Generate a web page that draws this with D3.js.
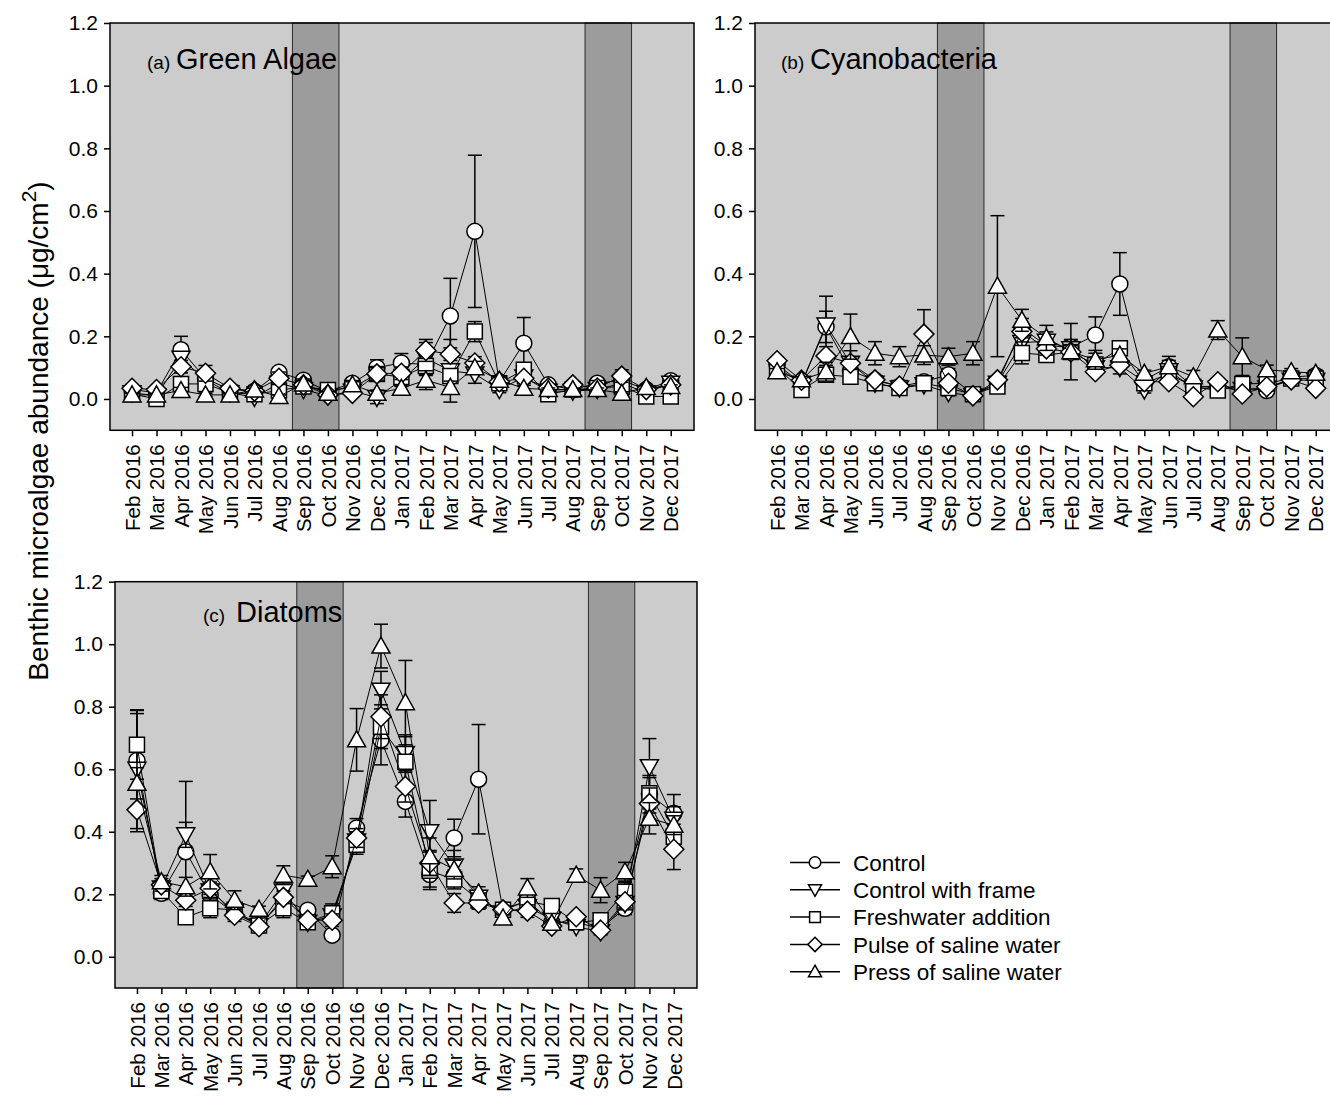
<!DOCTYPE html>
<html>
<head>
<meta charset="utf-8">
<script src="https://cdn.jsdelivr.net/npm/d3@7"></script>
<style>
  body { margin: 0; background: #fff; }
  text { font-family: "Liberation Sans", Arial, sans-serif; fill: #000; }
</style>
</head>
<body>
<script>
// months on the x axis
const months = ["Feb 2016","Mar 2016","Apr 2016","May 2016","Jun 2016","Jul 2016","Aug 2016","Sep 2016","Oct 2016",
  "Nov 2016","Dec 2016","Jan 2017","Feb 2017","Mar 2017","Apr 2017","May 2017","Jun 2017","Jul 2017","Aug 2017",
  "Sep 2017","Oct 2017","Nov 2017","Dec 2017"]
const treatments = ["Control","Control with frame","Freshwater addition","Pulse of saline water","Press of saline water"]
const yTicks = [0, 0.2, 0.4, 0.6, 0.8, 1.0, 1.2]
// shaded periods (month index)
const bandStart = [6.55, 18.5]
const bandEnd = [8.45, 20.4]

// (a) green algae
const greenControl = [0.03,0.02,0.157,0.065,0.03,0.025,0.085,0.06,0.025,0.05,0.1,0.115,0.11,0.265,0.535,0.055,0.178,0.045,0.03,0.05,0.06,0.03,0.058]
const greenFrame   = [0.02,0.01,0.13,0.06,0.02,0.005,0.05,0.03,0.01,0.025,0.005,0.06,0.13,0.09,0.08,0.03,0.07,0.025,0.025,0.03,0.05,0.02,0.05]
const greenFresh   = [0.016,0.0,0.048,0.048,0.02,0.015,0.027,0.04,0.029,0.035,0.08,0.07,0.105,0.073,0.215,0.05,0.093,0.015,0.03,0.035,0.04,0.008,0.008]
const greenPulse   = [0.034,0.03,0.103,0.082,0.034,0.025,0.066,0.045,0.013,0.018,0.08,0.082,0.155,0.143,0.115,0.055,0.066,0.035,0.045,0.035,0.073,0.03,0.045]
const greenPress   = [0.013,0.013,0.027,0.013,0.013,0.029,0.008,0.048,0.018,0.045,0.018,0.034,0.06,0.037,0.1,0.06,0.034,0.03,0.03,0.03,0.018,0.037,0.04]
const greenControlSE = [0.01,0.01,0.043,0.01,0.01,0.01,0.015,0.01,0.01,0.01,0.025,0.03,0.03,0.12,0.243,0.01,0.082,0.01,0.01,0.01,0.01,0.01,0.01]
const greenFrameSE   = [0.01,0.01,0.02,0.02,0.01,0.01,0.02,0.01,0.01,0.01,0.02,0.02,0.05,0.1,0.03,0.01,0.02,0.01,0.01,0.01,0.02,0.01,0.01]
const greenFreshSE   = [0.01,0.01,0.015,0.025,0.01,0.01,0.01,0.01,0.01,0.01,0.02,0.02,0.03,0.01,0.032,0.01,0.02,0.01,0.01,0.01,0.01,0.01,0.01]
const greenPulseSE   = [0.01,0.01,0.02,0.025,0.01,0.01,0.02,0.01,0.01,0.01,0.02,0.02,0.035,0.02,0.02,0.01,0.01,0.01,0.01,0.01,0.02,0.01,0.01]
const greenPressSE   = [0.005,0.005,0.01,0.005,0.005,0.005,0.005,0.01,0.005,0.01,0.01,0.01,0.03,0.02,0.02,0.01,0.01,0.005,0.005,0.005,0.005,0.005,0.005]

// (b) cyanobacteria
const cyanoControl = [0.11,0.05,0.23,0.09,0.06,0.04,0.055,0.077,0.015,0.05,0.227,0.17,0.165,0.204,0.367,0.06,0.103,0.04,0.04,0.035,0.027,0.07,0.075]
const cyanoFrame   = [0.1,0.05,0.236,0.114,0.05,0.035,0.045,0.02,0.01,0.05,0.18,0.184,0.16,0.1,0.1,0.029,0.09,0.035,0.035,0.03,0.035,0.06,0.06]
const cyanoFresh   = [0.1,0.029,0.077,0.071,0.05,0.035,0.05,0.035,0.015,0.04,0.147,0.14,0.15,0.11,0.162,0.05,0.08,0.039,0.027,0.048,0.05,0.065,0.065]
const cyanoPulse   = [0.122,0.06,0.137,0.114,0.061,0.041,0.207,0.05,0.01,0.061,0.215,0.16,0.15,0.087,0.108,0.055,0.055,0.007,0.055,0.016,0.039,0.061,0.034]
const cyanoPress   = [0.087,0.061,0.087,0.199,0.146,0.135,0.14,0.135,0.146,0.36,0.251,0.195,0.151,0.125,0.14,0.082,0.103,0.071,0.22,0.135,0.093,0.087,0.082]
const cyanoControlSE = [0.01,0.01,0.05,0.02,0.01,0.01,0.01,0.02,0.005,0.01,0.03,0.02,0.02,0.058,0.1,0.01,0.033,0.01,0.01,0.01,0.01,0.01,0.01]
const cyanoFrameSE   = [0.01,0.01,0.092,0.04,0.01,0.01,0.01,0.01,0.005,0.01,0.04,0.03,0.03,0.02,0.02,0.01,0.02,0.01,0.01,0.01,0.01,0.01,0.01]
const cyanoFreshSE   = [0.01,0.005,0.01,0.01,0.01,0.01,0.01,0.01,0.005,0.01,0.035,0.01,0.02,0.02,0.02,0.01,0.01,0.01,0.005,0.01,0.01,0.01,0.01]
const cyanoPulseSE   = [0.01,0.01,0.03,0.02,0.01,0.01,0.078,0.01,0.005,0.01,0.02,0.02,0.02,0.01,0.01,0.01,0.01,0.01,0.01,0.005,0.01,0.01,0.01]
const cyanoPressSE   = [0.01,0.01,0.03,0.072,0.037,0.032,0.03,0.027,0.037,0.225,0.035,0.04,0.09,0.03,0.02,0.01,0.02,0.02,0.03,0.06,0.015,0.01,0.01]

// (c) diatoms
const diatomControl = [0.628,0.203,0.336,0.197,0.14,0.1,0.18,0.149,0.069,0.412,0.694,0.497,0.263,0.38,0.568,0.15,0.18,0.11,0.11,0.09,0.155,0.52,0.459]
const diatomFrame   = [0.6,0.22,0.39,0.21,0.145,0.1,0.21,0.11,0.13,0.37,0.853,0.65,0.4,0.29,0.19,0.14,0.16,0.12,0.096,0.08,0.17,0.608,0.44]
const diatomFresh   = [0.678,0.21,0.126,0.155,0.15,0.1,0.155,0.11,0.139,0.358,0.736,0.624,0.275,0.247,0.18,0.15,0.178,0.162,0.11,0.117,0.208,0.523,0.384]
const diatomPulse   = [0.47,0.23,0.181,0.219,0.133,0.096,0.19,0.117,0.117,0.38,0.768,0.545,0.3,0.172,0.172,0.15,0.146,0.098,0.128,0.085,0.176,0.49,0.344]
const diatomPress   = [0.555,0.24,0.224,0.272,0.181,0.152,0.261,0.248,0.288,0.694,0.994,0.813,0.32,0.279,0.204,0.124,0.22,0.107,0.261,0.213,0.272,0.443,0.421]
const diatomControlSE = [0.15,0.02,0.225,0.02,0.02,0.01,0.02,0.01,0.01,0.03,0.08,0.05,0.04,0.06,0.175,0.01,0.02,0.01,0.01,0.01,0.02,0.06,0.06]
const diatomFrameSE   = [0.19,0.02,0.04,0.02,0.02,0.01,0.02,0.01,0.01,0.03,0.06,0.06,0.1,0.05,0.02,0.01,0.02,0.01,0.01,0.01,0.02,0.09,0.04]
const diatomFreshSE   = [0.11,0.02,0.02,0.03,0.02,0.01,0.03,0.01,0.03,0.03,0.07,0.08,0.06,0.03,0.02,0.01,0.02,0.02,0.01,0.01,0.03,0.05,0.04]
const diatomPulseSE   = [0.07,0.02,0.02,0.02,0.02,0.01,0.02,0.01,0.02,0.03,0.07,0.05,0.04,0.03,0.02,0.01,0.02,0.01,0.01,0.01,0.02,0.05,0.065]
const diatomPressSE   = [0.05,0.02,0.03,0.055,0.03,0.01,0.03,0.01,0.035,0.1,0.07,0.135,0.06,0.03,0.02,0.01,0.03,0.01,0.02,0.04,0.03,0.05,0.03]

const panels = [
  { tag: "(a)", name: "Green Algae", left: 110, right: 694, top: 23, bottom: 430.3, tagX: 147, nameX: 176, titleY: 69,
    series: [greenControl, greenFrame, greenFresh, greenPulse, greenPress],
    se: [greenControlSE, greenFrameSE, greenFreshSE, greenPulseSE, greenPressSE] },
  { tag: "(b)", name: "Cyanobacteria", left: 755, right: 1339, top: 23, bottom: 430.3, tagX: 781, nameX: 810, titleY: 69,
    series: [cyanoControl, cyanoFrame, cyanoFresh, cyanoPulse, cyanoPress],
    se: [cyanoControlSE, cyanoFrameSE, cyanoFreshSE, cyanoPulseSE, cyanoPressSE] },
  { tag: "(c)", name: "Diatoms", left: 115, right: 697, top: 581.7, bottom: 988, tagX: 203, nameX: 236, titleY: 622,
    series: [diatomControl, diatomFrame, diatomFresh, diatomPulse, diatomPress],
    se: [diatomControlSE, diatomFrameSE, diatomFreshSE, diatomPulseSE, diatomPressSE] }
]

// marker shapes, s = scale
const shapes = [
  s => d3.symbol(d3.symbolCircle, Math.PI * (8*s) * (8*s))(),
  s => `M0,${9*s}L${9*s},${-7*s}L${-9*s},${-7*s}Z`,
  s => `M${-7.5*s},${-7.5*s}H${7.5*s}V${7.5*s}H${-7.5*s}Z`,
  s => `M0,${-10*s}L${10*s},0L0,${10*s}L${-10*s},0Z`,
  s => `M0,${-9*s}L${9*s},${7*s}L${-9*s},${7*s}Z`
]

const svg = d3.select("body")
  .append("svg")
  .attr("width", 1330)
  .attr("height", 1103)

panels.forEach(p => {
  const x = d3.scaleLinear().domain([-0.9, 22.95]).range([p.left, p.right])
  const y = d3.scaleLinear().domain([-0.1, 1.2]).range([p.bottom, p.top])
  const g = svg.append("g")

  g.append("rect")
    .attr("x", p.left).attr("y", p.top)
    .attr("width", p.right - p.left).attr("height", p.bottom - p.top)
    .attr("fill", "#cccccc")

  // dark periods
  g.selectAll("rect.band")
    .data(bandStart)
    .join("rect")
    .attr("class", "band")
    .attr("x", (d, i) => x(d))
    .attr("y", p.top)
    .attr("width", (d, i) => x(bandEnd[i]) - x(d))
    .attr("height", p.bottom - p.top)
    .attr("fill", "#9c9c9c")
    .attr("stroke", "#2a2a2a")
    .attr("stroke-width", 1)

  // title
  const t = g.append("text").attr("y", p.titleY)
  t.append("tspan").attr("x", p.tagX).attr("font-size", 19).text(p.tag)
  t.append("tspan").attr("x", p.nameX).attr("font-size", 29).text(p.name)

  const line = d3.line().x((d, i) => x(i)).y(d => y(d))

  p.series.forEach((vals, k) => {
    const s = g.append("g")
    s.append("path")
      .attr("d", line(vals))
      .attr("fill", "none")
      .attr("stroke", "#000")
      .attr("stroke-width", 1)

    // error bars
    const err = s.selectAll("g.err")
      .data(vals)
      .join("g")
      .attr("class", "err")
      .attr("stroke", "#000")
      .attr("stroke-width", 1.5)
    err.append("line")
      .attr("x1", (d, i) => x(i)).attr("x2", (d, i) => x(i))
      .attr("y1", (d, i) => y(d - p.se[k][i])).attr("y2", (d, i) => y(d + p.se[k][i]))
    err.append("line")
      .attr("x1", (d, i) => x(i) - 7).attr("x2", (d, i) => x(i) + 7)
      .attr("y1", (d, i) => y(d + p.se[k][i])).attr("y2", (d, i) => y(d + p.se[k][i]))
    err.append("line")
      .attr("x1", (d, i) => x(i) - 7).attr("x2", (d, i) => x(i) + 7)
      .attr("y1", (d, i) => y(d - p.se[k][i])).attr("y2", (d, i) => y(d - p.se[k][i]))

    s.selectAll("path.mk")
      .data(vals)
      .join("path")
      .attr("class", "mk")
      .attr("d", shapes[k](1))
      .attr("transform", (d, i) => `translate(${x(i)},${y(d)})`)
      .attr("fill", "#fff")
      .attr("stroke", "#000")
      .attr("stroke-width", 1.5)
  })

  // frame
  g.append("rect")
    .attr("x", p.left).attr("y", p.top)
    .attr("width", p.right - p.left).attr("height", p.bottom - p.top)
    .attr("fill", "none")
    .attr("stroke", "#000")
    .attr("stroke-width", 1.5)

  // axes
  const yAxis = g.append("g")
    .attr("transform", `translate(${p.left},0)`)
    .call(d3.axisLeft(y).tickValues(yTicks).tickFormat(d3.format(".1f")).tickSize(6).tickSizeOuter(0).tickPadding(6))
  yAxis.select(".domain").remove()
  yAxis.selectAll("text").attr("font-size", 21).attr("font-family", "Liberation Sans, Arial, sans-serif")
  yAxis.selectAll("line").attr("stroke-width", 1.5)

  const xAxis = g.append("g")
    .attr("transform", `translate(0,${p.bottom})`)
    .call(d3.axisBottom(x).tickValues(d3.range(months.length)).tickFormat(i => months[i]).tickSize(6).tickSizeOuter(0))
  xAxis.select(".domain").remove()
  xAxis.selectAll("line").attr("stroke-width", 1.5)
  xAxis.selectAll("text")
    .attr("font-size", 20.5)
    .attr("font-family", "Liberation Sans, Arial, sans-serif")
    .attr("transform", "rotate(-90)")
    .attr("text-anchor", "end")
    .attr("x", -14)
    .attr("y", 0)
    .attr("dy", "0.35em")
})

// y axis title
const yt = svg.append("text")
  .attr("transform", "translate(48,431) rotate(-90)")
  .attr("text-anchor", "middle")
  .attr("font-size", 28)
yt.append("tspan").text("Benthic microalgae abundance (\u03bcg/cm")
yt.append("tspan").attr("font-size", 21).attr("dy", -12).text("2")
yt.append("tspan").attr("dy", 12).text(")")

// legend
const legend = svg.append("g")
  .selectAll("g")
  .data(treatments)
  .join("g")
  .attr("transform", (d, i) => `translate(790,${862.5 + i * 27.3})`)
legend.append("line")
  .attr("x1", 0).attr("x2", 50)
  .attr("stroke", "#000").attr("stroke-width", 1.5)
legend.append("path")
  .attr("d", (d, i) => shapes[i](0.72))
  .attr("transform", "translate(25,0)")
  .attr("fill", "#fff")
  .attr("stroke", "#000")
  .attr("stroke-width", 1.5)
legend.append("text")
  .attr("x", 63)
  .attr("dy", "0.36em")
  .attr("font-size", 22.5)
  .text(d => d)
</script>
</body>
</html>
